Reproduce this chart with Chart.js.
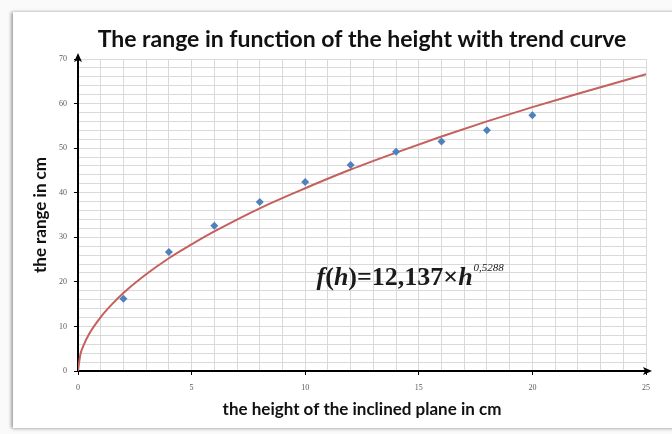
<!DOCTYPE html>
<html>
<head>
<meta charset="utf-8">
<script src="https://cdn.jsdelivr.net/npm/chart.js@4/dist/chart.umd.min.js"></script>
<style>
  html, body { margin: 0; padding: 0; background: #fafafa; }
  #frame {
    position: absolute; left: 13px; top: 12px; width: 700px; height: 416px;
    background: #fff;
    box-shadow: -2px 0 3px rgba(0,0,0,0.30), 0 1px 4px rgba(0,0,0,0.15);
  }
  #chart { position: absolute; left: 0; top: 0; }
</style>
</head>
<body>
<div id="frame"></div>
<canvas id="chart" width="672" height="434"></canvas>
<script>
// measured points
const heights = [2, 4, 6, 8, 10, 12, 14, 16, 18, 20];
const ranges = [16.2, 26.7, 32.6, 37.9, 42.4, 46.2, 49.2, 51.5, 54.0, 57.4];

// trend curve
const trendH = [0, 0.1, 0.25, 0.5, 1, 1.5, 2, 3, 4, 5, 6, 8, 10, 12, 14, 16, 18, 20, 22, 25];
const trendR = [0, 3.6, 5.8, 8.4, 12.1, 15.0, 17.5, 21.7, 25.3, 28.4, 31.3, 36.5, 41.0, 45.2, 49.0, 52.6, 56.0, 59.2, 62.2, 66.6];

const xTicks = [0, 5, 10, 15, 20, 25];
const yTicks = [0, 10, 20, 30, 40, 50, 60, 70];

const titleText = 'The range in function of the height with trend curve';
const xTitle = 'the height of the inclined plane in cm';
const yTitle = 'the range in cm';

const overlay = {
  id: 'overlay',
  afterDraw(chart) {
    const { ctx, chartArea, scales: { x, y } } = chart;
    const x0 = x.getPixelForValue(0), y0 = y.getPixelForValue(0);
    const yTop = y.getPixelForValue(70), xEnd = x.getPixelForValue(25);
    ctx.save();

    // title, centred over the plot area
    ctx.fillStyle = '#111';
    ctx.font = 'bold 23px Lato';
    ctx.textAlign = 'center';
    ctx.textBaseline = 'middle';
    ctx.fillText(titleText, (chartArea.left + chartArea.right) / 2, 40);
    ctx.textAlign = 'left';

    ctx.fillStyle = '#000';
    ctx.strokeStyle = '#000';
    ctx.lineWidth = 2;
    // y axis extension + arrow
    ctx.beginPath(); ctx.moveTo(x0, yTop); ctx.lineTo(x0, yTop - 2); ctx.stroke();
    ctx.beginPath();
    ctx.moveTo(x0, yTop - 6); ctx.lineTo(x0 - 4, yTop + 3);
    ctx.lineTo(x0, yTop + 1); ctx.lineTo(x0 + 4, yTop + 3);
    ctx.closePath(); ctx.fill();
    // x axis extension + arrow
    ctx.beginPath(); ctx.moveTo(xEnd, y0); ctx.lineTo(xEnd + 2, y0); ctx.stroke();
    ctx.beginPath();
    ctx.moveTo(xEnd + 6, y0); ctx.lineTo(xEnd - 3, y0 - 4);
    ctx.lineTo(xEnd - 1, y0); ctx.lineTo(xEnd - 3, y0 + 4);
    ctx.closePath(); ctx.fill();

    // equation of the trend curve
    let px = x.getPixelForValue(10.5);
    const py = y.getPixelForValue(19.3);
    ctx.fillStyle = '#1a1a1a';
    ctx.textBaseline = 'alphabetic';
    const part = (txt, font, dy) => {
      ctx.font = font;
      ctx.fillText(txt, px, py + (dy || 0));
      px += ctx.measureText(txt).width;
    };
    part('f', 'italic bold 26px "Liberation Serif"');
    part('(', 'bold 26px "Liberation Serif"');
    part('h', 'italic bold 26px "Liberation Serif"');
    part(')=12,137×', 'bold 26px "Liberation Serif"');
    part('h', 'italic bold 26px "Liberation Serif"');
    px += 1;
    part('0,5288', 'italic 11px "Liberation Serif"', -14);
    ctx.restore();
  }
};

new Chart(document.getElementById('chart'), {
  type: 'scatter',
  data: {
    datasets: [
      {
        label: 'measured',
        data: heights.map((h, i) => ({ x: h, y: ranges[i] })),
        pointStyle: 'rectRot',
        pointRadius: 4,
        backgroundColor: '#4f81bd',
        borderColor: '#4f81bd',
        borderWidth: 0,
        order: 1
      },
      {
        label: 'trend',
        data: trendH.map((h, i) => ({ x: h, y: trendR[i] })),
        showLine: true,
        pointRadius: 0,
        borderColor: '#c5605c',
        borderWidth: 2,
        cubicInterpolationMode: 'monotone',
        order: 2
      }
    ]
  },
  options: {
    responsive: false,
    animation: false,
    layout: { padding: { left: 24, right: 26, top: 59, bottom: 10 } },
    plugins: {
      legend: { display: false },
      tooltip: { enabled: false },
      title: { display: false }
    },
    scales: {
      x: {
        type: 'linear',
        min: 0, max: 25,
        afterFit: s => { s.height = 53; },
        afterBuildTicks: s => {
          s.ticks = Array.from({ length: 26 }, (_, i) => ({ value: i }));
        },
        ticks: {
          autoSkip: false,
          maxRotation: 0,
          padding: 8,
          color: '#595959',
          font: { family: 'Liberation Serif', size: 8 },
          callback: v => xTicks.includes(v) ? String(v) : ''
        },
        grid: {
          color: '#d9d9d9',
          lineWidth: 1,
          tickLength: 4,
          tickColor: c => (c.tick && xTicks.includes(c.tick.value)) ? '#000' : 'rgba(0,0,0,0)'
        },
        border: { color: '#000', width: 2 },
        title: {
          display: true,
          text: xTitle,
          color: '#111',
          font: { family: 'Lato', size: 17, weight: 'bold' },
          padding: { top: 6 }
        }
      },
      y: {
        type: 'linear',
        min: 0, max: 70,
        afterFit: s => { s.width = 54; },
        afterBuildTicks: s => {
          s.ticks = Array.from({ length: 36 }, (_, i) => ({ value: i * 2 }));
        },
        ticks: {
          autoSkip: false,
          padding: 7,
          color: '#595959',
          font: { family: 'Liberation Serif', size: 8 },
          callback: v => yTicks.includes(v) ? String(v) : ''
        },
        grid: {
          color: '#d9d9d9',
          lineWidth: 1,
          tickLength: 4,
          tickColor: c => (c.tick && yTicks.includes(c.tick.value)) ? '#000' : 'rgba(0,0,0,0)'
        },
        border: { color: '#000', width: 2 },
        title: {
          display: true,
          text: yTitle,
          color: '#111',
          font: { family: 'Lato', size: 17, weight: 'bold' },
          padding: { top: 6, bottom: 4 }
        }
      }
    }
  },
  plugins: [overlay]
});
</script>
</body>
</html>
